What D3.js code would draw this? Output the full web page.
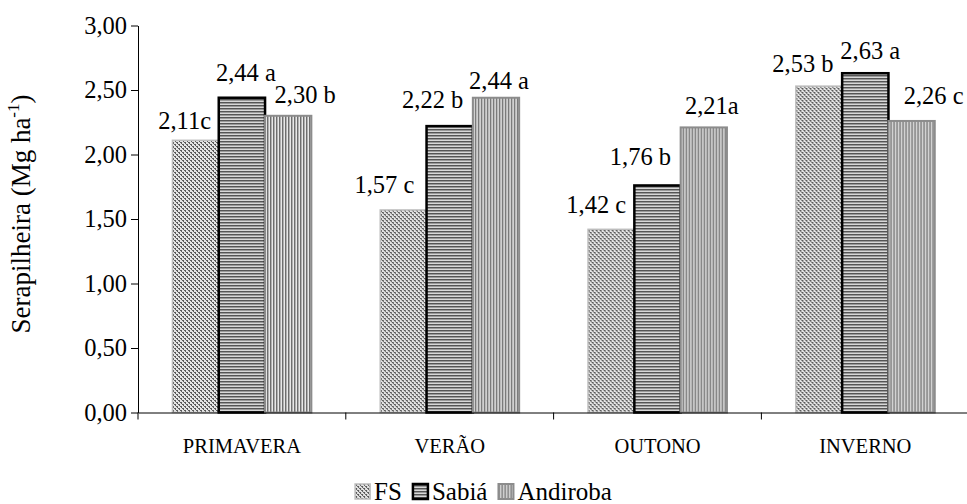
<!DOCTYPE html>
<html>
<head>
<meta charset="utf-8">
<script src="https://cdn.jsdelivr.net/npm/d3@7/dist/d3.min.js"></script>
<style>
  html, body { margin: 0; padding: 0; background: #fff; }
  svg { display: block; }
</style>
</head>
<body>
<svg id="chart" width="967" height="504"></svg>
<script>
// ---- data ----
const categories = ["PRIMAVERA", "VERÃO", "OUTONO", "INVERNO"];
const seriesNames = ["FS", "Sabiá", "Andiroba"];
const fsValues = [2.11, 1.57, 1.42, 2.53];
const sabiaValues = [2.44, 2.22, 1.76, 2.63];
const andirobaValues = [2.30, 2.44, 2.21, 2.26];
const fsLabels = ["2,11c", "1,57 c", "1,42 c", "2,53 b"];
const sabiaLabels = ["2,44 a", "2,22 b", "1,76 b", "2,63 a"];
const andirobaLabels = ["2,30 b", "2,44 a", "2,21a", "2,26 c"];
const yTickValues = [0, 0.5, 1.0, 1.5, 2.0, 2.5, 3.0];

// label nudges (manual placement as in the original), [dx, dy] per series per category
const labelNudge = {
  "FS":       [[-11, -11], [-19, -17], [-15, -16], [-16, -14]],
  "Sabiá":    [[4, -17],   [-17, -18], [-17, -20], [5, -14]],
  "Andiroba": [[17, -13],  [3, -9],    [8, -13],   [22, -17]]
};

const seriesValues = { "FS": fsValues, "Sabiá": sabiaValues, "Andiroba": andirobaValues };
const seriesLabels = { "FS": fsLabels, "Sabiá": sabiaLabels, "Andiroba": andirobaLabels };
const seriesStyle = {
  "FS":       { fill: "url(#patFS)",  stroke: "#bdbdbd", sw: 1.5 },
  "Sabiá":    { fill: "url(#patSab)", stroke: "#000000", sw: 2.5 },
  "Andiroba": { fill: "url(#patAnd)", stroke: "#8c8c8c", sw: 2 }
};
const FONT = "'Times New Roman', 'Liberation Serif', serif";

const svg = d3.select("#chart");
const defs = svg.append("defs");

// FS: fine diagonal checker pattern
const pFS = defs.append("pattern").attr("id", "patFS").attr("patternUnits", "userSpaceOnUse")
  .attr("width", 4).attr("height", 4);
pFS.append("rect").attr("width", 4).attr("height", 4).attr("fill", "#e4e4e4");
for (let yy = 0; yy < 4; yy++) for (let xx = 0; xx < 4; xx++) {
  const k = ((xx - yy) % 4 + 4) % 4;
  if (k === 0 || (k === 1 && yy % 2 === 0)) pFS.append("rect").attr("x", xx).attr("y", yy).attr("width", 1).attr("height", 1).attr("fill", "#5a5a5a");
}
// Sabiá: horizontal stripes
const pS = defs.append("pattern").attr("id", "patSab").attr("patternUnits", "userSpaceOnUse")
  .attr("width", 4).attr("height", 3);
pS.append("rect").attr("width", 4).attr("height", 3).attr("fill", "#d8d8d8");
pS.append("rect").attr("y", 0).attr("width", 4).attr("height", 1).attr("fill", "#555");
pS.append("rect").attr("y", 1).attr("width", 4).attr("height", 1).attr("fill", "#9a9a9a");
// Andiroba: vertical stripes
const pA = defs.append("pattern").attr("id", "patAnd").attr("patternUnits", "userSpaceOnUse")
  .attr("width", 3).attr("height", 4);
pA.append("rect").attr("width", 3).attr("height", 4).attr("fill", "#e8e8e8");
pA.append("rect").attr("x", 0).attr("width", 1).attr("height", 4).attr("fill", "#6e6e6e");
pA.append("rect").attr("x", 1).attr("width", 1).attr("height", 4).attr("fill", "#b0b0b0");

// ---- scales ----
const plotLeft = 138, plotRight = 969.2, plotTop = 25.5, plotBottom = 412.5;
const x0 = d3.scaleBand().domain(categories).range([plotLeft, plotRight]).paddingInner(0).paddingOuter(0);
const x1 = d3.scaleBand().domain(seriesNames).range([0, x0.bandwidth()]).paddingInner(0).paddingOuter(0.744);
const y = d3.scaleLinear().domain([0, 3]).range([plotBottom, plotTop]);

// ---- bars ----
const groups = svg.append("g").selectAll("g").data(categories).join("g")
  .attr("transform", d => `translate(${x0(d)},0)`);

seriesNames.forEach(s => {
  const st = seriesStyle[s];
  groups.append("rect")
    .attr("x", (d, i) => x1(s))
    .attr("y", (d, i) => y(seriesValues[s][i]))
    .attr("width", x1.bandwidth())
    .attr("height", (d, i) => y(0) - y(seriesValues[s][i]))
    .attr("fill", st.fill)
    .attr("stroke", st.stroke)
    .attr("stroke-width", st.sw);
});

// ---- data labels ----
seriesNames.forEach(s => {
  groups.append("text")
    .attr("x", (d, i) => x1(s) + x1.bandwidth() / 2 + labelNudge[s][i][0])
    .attr("y", (d, i) => y(seriesValues[s][i]) + labelNudge[s][i][1])
    .attr("text-anchor", "middle")
    .style("font-family", FONT)
    .style("font-size", "24.5px")
    .attr("fill", "#000")
    .text((d, i) => seriesLabels[s][i]);
});

// ---- y axis ----
const yAxis = d3.axisLeft(y).tickValues(yTickValues)
  .tickFormat(d => d.toFixed(2).replace(".", ","))
  .tickSize(7).tickSizeOuter(0).tickPadding(4);
const gy = svg.append("g").attr("transform", `translate(${plotLeft},0)`).call(yAxis);
gy.select(".domain").attr("stroke", "#000").attr("stroke-width", 1);
gy.selectAll(".tick line").attr("stroke", "#000");
gy.selectAll(".tick text").attr("fill", "#000")
  .style("font-family", FONT).style("font-size", "24.5px");

// ---- x axis ----
const xAxis = d3.axisBottom(x0).tickSize(0).tickPadding(26).tickSizeOuter(0);
const gx = svg.append("g").attr("transform", `translate(0,${plotBottom})`).call(xAxis);
gx.select(".domain").attr("stroke", "#000").attr("stroke-width", 1);
gx.selectAll(".tick text").attr("fill", "#000")
  .style("font-family", FONT).style("font-size", "20.5px");
// boundary ticks
const boundaries = categories.map(c => x0(c)).concat([x0(categories[categories.length - 1]) + x0.bandwidth()]);
gx.selectAll("line.bound").data(boundaries).join("line").attr("class", "bound")
  .attr("x1", d => d).attr("x2", d => d).attr("y1", 0).attr("y2", 7).attr("stroke", "#000");

// ---- y title ----
const title = svg.append("text")
  .attr("transform", `translate(30,${214}) rotate(-90)`)
  .attr("text-anchor", "middle")
  .style("font-family", FONT)
  .style("font-size", "27px")
  .attr("fill", "#000");
title.append("tspan").text("Serapilheira (Mg ha");
title.append("tspan").style("font-size", "17px").attr("dy", -11).text("-1");
title.append("tspan").attr("dy", 11).text(")");

// ---- legend ----
const legend = svg.append("g");
let lx = 0;
seriesNames.forEach(s => {
  const g = legend.append("g").attr("transform", `translate(${lx},0)`);
  const st = seriesStyle[s];
  g.append("rect").attr("x", 0).attr("y", -16).attr("width", 15).attr("height", 15)
    .attr("fill", st.fill).attr("stroke", st.stroke).attr("stroke-width", st.sw);
  const t = g.append("text").attr("x", 19).attr("y", 0)
    .style("font-family", FONT).style("font-size", "25px").attr("fill", "#000").text(s);
  const w = t.node().getComputedTextLength();
  lx += 19 + w + 11;
});
const totalW = lx - 11;
legend.attr("transform", `translate(${(967 - totalW) / 2},500)`);
</script>
</body>
</html>
